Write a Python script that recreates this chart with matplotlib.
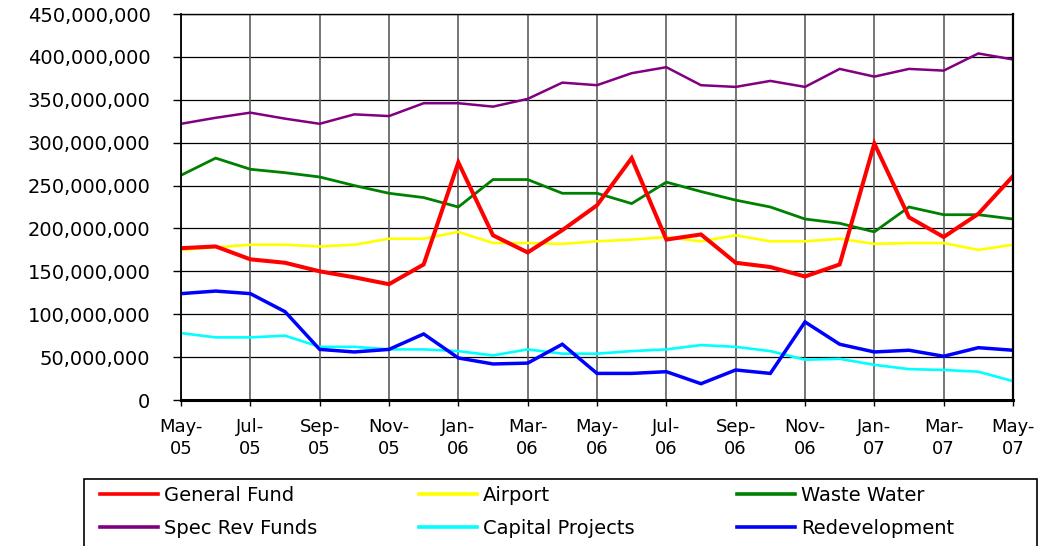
import numpy as np
import matplotlib
matplotlib.use("Agg")
import matplotlib.pyplot as plt
from matplotlib.lines import Line2D
from matplotlib.patches import Rectangle
from matplotlib.ticker import FuncFormatter, MultipleLocator

plt.rcParams['font.family'] = ['DejaVu Sans']

# ================== DATA ===================
months = ['May-05', 'Jun-05', 'Jul-05', 'Aug-05', 'Sep-05', 'Oct-05', 'Nov-05', 'Dec-05',
          'Jan-06', 'Feb-06', 'Mar-06', 'Apr-06', 'May-06', 'Jun-06', 'Jul-06', 'Aug-06',
          'Sep-06', 'Oct-06', 'Nov-06', 'Dec-06', 'Jan-07', 'Feb-07', 'Mar-07', 'Apr-07',
          'May-07']

# values in millions
general_fund = [177, 179, 164, 160, 150, 143, 135, 158, 277, 192, 172, 198, 227, 282, 187,
                193, 160, 155, 144, 158, 299, 213, 190, 217, 261]
airport = [175, 178, 181, 181, 179, 181, 188, 188, 196, 183, 183, 182, 185, 187, 190,
           185, 192, 185, 185, 188, 182, 183, 183, 175, 181]
waste_water = [262, 282, 269, 265, 260, 250, 241, 236, 225, 257, 257, 241, 241, 229, 254,
               243, 233, 225, 211, 206, 196, 225, 216, 216, 211]
spec_rev_funds = [322, 329, 335, 328, 322, 333, 331, 346, 346, 342, 351, 370, 367, 381, 388,
                  367, 365, 372, 365, 386, 377, 386, 384, 404, 397]
capital_projects = [78, 73, 73, 75, 62, 62, 59, 59, 57, 52, 59, 54, 54, 57, 59,
                    64, 62, 57, 47, 48, 41, 36, 35, 33, 22]
redevelopment = [124, 127, 124, 103, 59, 56, 59, 77, 49, 42, 43, 65, 31, 31, 33,
                 19, 35, 31, 91, 65, 56, 58, 51, 61, 58]

series = [
    ('General Fund', general_fund, '#FF0000', 2.9, 10),
    ('Airport', airport, '#FFFF00', 1.9, 4),
    ('Waste Water', waste_water, '#008000', 2.0, 5),
    ('Spec Rev Funds', spec_rev_funds, '#800080', 1.8, 6),
    ('Capital Projects', capital_projects, '#00FFFF', 1.9, 7),
    ('Redevelopment', redevelopment, '#0000FF', 2.5, 8),
]

# ================== FIGURE ===================
W, H = 1041, 546
fig = plt.figure(figsize=(W / 100, H / 100), dpi=100)
ax = fig.add_axes([181 / W, 1 - 400 / H, 832 / W, 386 / H])

x = np.arange(len(months))
for name, vals, color, lw, z in series:
    ax.plot(x, np.array(vals) * 1e6, color=color, lw=lw, zorder=z,
            solid_joinstyle='miter', label=name)

ax.set_xlim(0, len(months) - 1)
ax.set_ylim(0, 450e6)
ax.yaxis.set_major_locator(MultipleLocator(50e6))
ax.yaxis.set_major_formatter(FuncFormatter(lambda v, p: f"{int(round(v)):,}"))

ax.set_xticks(x[::2])
ax.set_xticklabels([m.replace('-', '-\n') for m in months[::2]], linespacing=1.25)

# gridlines
for yv in np.arange(50e6, 451e6, 50e6):
    ax.axhline(yv, color='black', lw=0.9, zorder=1)
for xv in x[::2]:
    ax.axvline(xv, color='#5e5e5e', lw=1.2, zorder=1)

ax.tick_params(axis='y', length=6, width=1, pad=16, labelsize=14, colors='black')
ax.tick_params(axis='x', length=4, width=1, pad=9, labelsize=13, colors='black')

ax.spines['bottom'].set_linewidth(2.2)
ax.spines['left'].set_linewidth(1.3)
ax.spines['right'].set_linewidth(1.6)
ax.spines['top'].set_linewidth(1.0)
for s in ax.spines.values():
    s.set_zorder(12)

# ================== LEGEND ===================
# frame (runs off the bottom edge like the original)
fig.patches.append(Rectangle((84 / W, -0.05), 953 / W, 0.05 + (546 - 479) / H,
                             transform=fig.transFigure, fill=False,
                             edgecolor='black', lw=1.2))

handles = {name: Line2D([], [], color=color, lw=2.6) for name, _, color, _, _ in series}
columns = [(['General Fund', 'Spec Rev Funds'], 96),
           (['Airport', 'Capital Projects'], 415),
           (['Waste Water', 'Redevelopment'], 733)]
for names, x0 in columns:
    leg = fig.legend([handles[n] for n in names], names, loc='upper left',
                     bbox_to_anchor=(x0 / W, 1 - 482 / H), frameon=False,
                     fontsize=14, handlelength=3.0, handletextpad=0.3,
                     labelspacing=0.7, borderpad=0.2, borderaxespad=0)

fig.savefig('out.png', dpi=100)
